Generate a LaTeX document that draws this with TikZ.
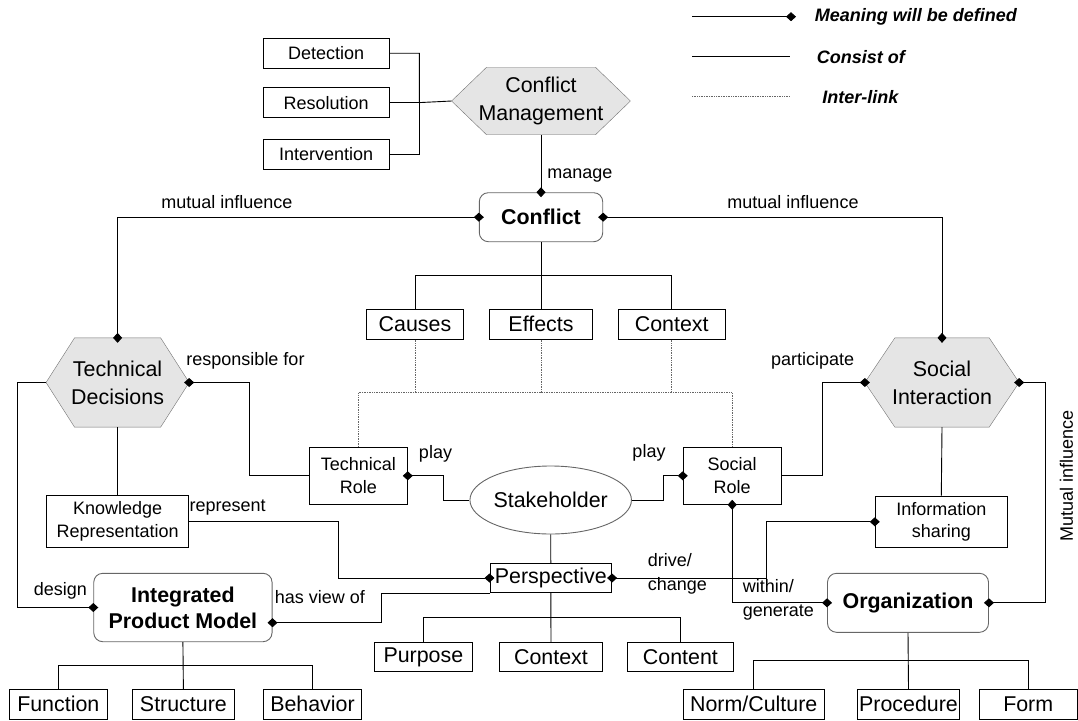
\documentclass[tikz,border=0pt]{standalone}
\usepackage{fontspec}
\setmainfont{Liberation Sans}
\usepackage{tikz}
\usetikzlibrary{arrows.meta,shapes.geometric,calc,backgrounds}

\begin{document}
\begin{tikzpicture}[x=1pt,y=-1pt,line width=0.9pt,
  dia/.tip={Diamond[length=10pt,width=9pt]},
  lbl/.style={font=\fontsize{18}{22}\selectfont,inner sep=0pt},
  box/.style={draw,rectangle,inner sep=0pt,align=center,font=\fontsize{18}{22.5}\selectfont},
  bigbox/.style={box,font=\fontsize{21.4}{26}\selectfont},
  hexbox/.style={rectangle,inner sep=0pt,align=center,font=\fontsize{21.4}{27.7}\selectfont},
  hexline/.style={draw=black!55,fill=black!10},
  roundbox/.style={draw=black!60,rounded corners=9pt,inner sep=0pt,align=center,font=\bfseries\fontsize{21.4}{26.3}\selectfont},
  tohead/.style={-dia,shorten >=-5pt},
  fromhead/.style={dia-,shorten <=-5pt},
  bothhead/.style={dia-dia,shorten >=-5pt,shorten <=-5pt},
  interlink/.style={black!60,line width=0.7pt,densely dotted}]
\useasboundingbox (0,0) rectangle (1078,720);

% legend
\coordinate (lga) at (692,16.7); \coordinate (lgb) at (791,16.7);
\coordinate (lgc) at (692,56); \coordinate (lgd) at (790,56);
\coordinate (lge) at (692,96.7); \coordinate (lgf) at (790,96.7);
\draw[tohead] (lga) -- (lgb);
\draw (lgc) -- (lgd);
\draw[interlink] (lge) -- (lgf);
\node[lbl,anchor=west,font=\bfseries\itshape\fontsize{18}{22}\selectfont] (lg1) at (814.5,16.7) {Meaning will be defined};
\node[lbl,anchor=west,font=\bfseries\itshape\fontsize{18}{22}\selectfont] (lg2) at (816.3,57) {Consist of};
\node[lbl,anchor=west,font=\bfseries\itshape\fontsize{18}{22}\selectfont] (lg3) at (822,97) {Inter-link};

% conflict management
\node[hexbox,minimum width=178,minimum height=66.6] (cm) at (541,101) {Conflict\\Management};
\foreach \n/\y/\lab in {det/53.2/Detection,res/102.6/Resolution,intv/154.4/Intervention}{
  \node[box,minimum width=125.7,minimum height=29.6] (\n) at (326.2,\y) {\lab};
}
\coordinate (br) at (419.4,102.6);
\draw (det.east) -| (br) -- (cm.west);
\draw (res.east) -- (br);
\draw (intv.east) -| (br);

% conflict
\node[roundbox,minimum width=123.4,minimum height=49] (conf) at (541,217.2) {Conflict};
\draw[tohead] (cm.south) -- (conf.north);
\node[lbl,anchor=west] (lmanage) at (547,176) {manage};
\foreach \n/\x/\w/\lab in {causes/415/97.8/Causes,effects/541/103.4/Effects,ctx/671.7/106.7/Context}{
  \node[bigbox,minimum width=\w,minimum height=30] (\n) at (\x,324.3) {\lab};
}
\coordinate (cbar) at (541,275.7);
\draw (conf.south) -- (effects.north);
\draw (causes.north) |- (cbar) -| (ctx.north);

% technical / social
\node[hexbox,minimum width=142.2,minimum height=88.4] (td) at (117.6,382.5) {Technical\\Decisions};
\node[hexbox,minimum width=153.4,minimum height=88.4] (si) at (942,382.5) {Social\\Interaction};
\begin{scope}[on background layer]
\foreach \n/\d in {cm/35,td/28.5,si/30}{
  \path[hexline] (\n.west) -- ([xshift=\d pt]\n.north west) -- ([xshift=-\d pt]\n.north east)
    -- (\n.east) -- ([xshift=-\d pt]\n.south east) -- ([xshift=\d pt]\n.south west) -- cycle;
}
\end{scope}
\draw[bothhead] (conf.west) -| (td.north);
\draw[bothhead] (conf.east) -| (si.north);
\node[lbl] (lmut1) at (227,202) {mutual influence};
\node[lbl] (lmut2) at (793,202) {mutual influence};

\node[box,minimum width=98,minimum height=57] (trole) at (358.3,475.8) {Technical\\Role};
\node[box,minimum width=98,minimum height=57] (srole) at (732.2,475.8) {Social\\Role};
\node[draw=black!60,ellipse,minimum width=140,minimum height=68,inner sep=0pt,font=\fontsize{21.4}{26}\selectfont] (sh) at (550.7,500) {Stakeholder};

% inter-links
\coordinate (dbar) at (545,392.7);
\draw[interlink] (trole.north) |- (dbar) -| (srole.north);
\foreach \n in {causes,effects,ctx}{
  \draw[interlink] (\n.south) -- (\n.south |- dbar);
}

\draw[fromhead] (td.east) -- ++(60,0) |- (trole.west);
\node[lbl] (lresp) at (245.5,361) {responsible for};
\draw[fromhead] (si.west) -- ++(-42.2,0) |- (srole.east);
\node[lbl] (lpart) at (812.6,361) {participate};
\draw[fromhead] (trole.east) -- ++(35.4,0) |- (sh.west);
\draw[tohead] (sh.east) -- ++(31.6,0) |- (srole.west);
\node[lbl] (lplay1) at (435.5,454) {play};
\node[lbl] (lplay2) at (649,453) {play};

% knowledge / information
\node[box,minimum width=142.2,minimum height=52.7] (kr) at (117.6,521.3) {Knowledge\\Representation};
\node[box,minimum width=132.1,minimum height=51.7] (info) at (941.3,521.8) {Information\\sharing};
\draw (td.south) -- (kr.north);
\draw (si.south) -- (info.north);

% perspective
\node[bigbox,minimum width=121.7,minimum height=29.4] (persp) at (550.8,578) {Perspective};
\draw (sh.south) -- (persp.north);
\draw[tohead] (kr.east) -- ++(149.5,0) |- (persp.west);
\node[lbl] (lrep) at (227.7,507.7) {represent};
\draw[bothhead] (persp.east) -- ++(154.1,0) |- (info.west);
\node[lbl,align=left,anchor=west,font=\fontsize{18}{24}\selectfont] (ldrive) at (647.4,574) {drive/\\change};
\foreach \n/\x/\w/\lab in {purpose/423.4/98.2/Purpose,ctx2/551/103.2/Context,content/680.4/105.7/Content}{
  \node[bigbox,minimum width=\w,minimum height=29] (\n) at (\x,657.2) {\lab};
}
\coordinate (pbar) at (551,617.3);
\draw (persp.south) -- (ctx2.north);
\draw (purpose.north) |- (pbar) -| (content.north);

% integrated product model
\node[roundbox,minimum width=178.3,minimum height=68.4] (ipm) at (182.9,607.5) {Integrated\\Product Model};
\draw[tohead] (td.west) -- ++(-28.6,0) |- (ipm.west);
\node[lbl] (ldesign) at (60.3,591) {design};
\draw[fromhead] ($(ipm.east)+(0,15.2)$) -- ++(109,0) |- (persp.south west);
\node[lbl] (lview) at (320,596.7) {has view of};
\foreach \n/\x/\w/\lab in {func/58.3/98.1/Function,struct/183.4/102.9/Structure,behav/312.5/98.2/Behavior}{
  \node[bigbox,minimum width=\w,minimum height=30] (\n) at (\x,704.3) {\lab};
}
\coordinate (ibar) at (182.9,665.7);
\draw (ipm.south) -- (struct.north);
\draw (func.north) |- (ibar) -| (behav.north);

% organization
\node[roundbox,minimum width=161,minimum height=59] (org) at (908,602.8) {Organization};
\draw[bothhead] (srole.south) |- (org.west);
\node[lbl,align=left,anchor=west,font=\fontsize{18}{23.4}\selectfont] (lwithin) at (742.5,600) {within/\\generate};
\draw[bothhead] (si.east) -- ++(25.8,0) |- (org.east);
\node[lbl,rotate=90] (lmut3) at (1066.5,476) {Mutual influence};
\foreach \n/\x/\w/\lab in {norm/753.7/140.7/{Norm/Culture},proc/908.5/102.3/Procedure,form/1028.2/97.7/Form}{
  \node[bigbox,minimum width=\w,minimum height=30] (\n) at (\x,704.3) {\lab};
}
\coordinate (obar) at (908,660.7);
\draw (org.south) -- (proc.north);
\draw (norm.north) |- (obar) -| (form.north);
\end{tikzpicture}
\end{document}
